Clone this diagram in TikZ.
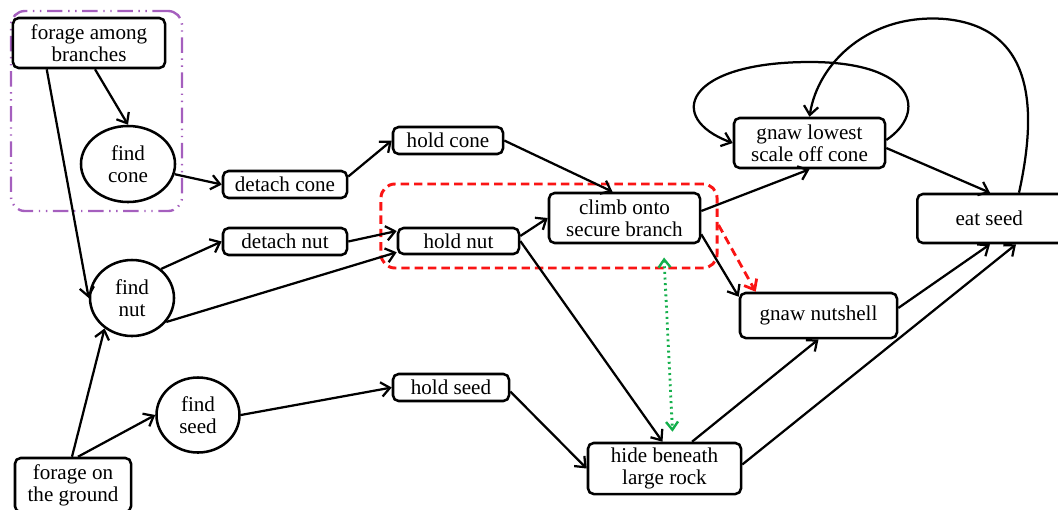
\documentclass[tikz,border=0pt]{standalone}
\usepackage{fontspec}
\setmainfont{Liberation Serif}
\newfontfamily\nodeserif{Liberation Serif}
\usetikzlibrary{arrows.meta,shapes.geometric,calc}
\definecolor{grpviolet}{RGB}{165,95,190}
\definecolor{grpred}{RGB}{250,20,20}
\definecolor{grpgreen}{RGB}{20,175,75}
\begin{document}
\begin{tikzpicture}[x=0.025cm,y=-0.025cm,
  every node/.style={font=\nodeserif\fontsize{15}{15.5}\selectfont, align=center, inner sep=0pt},
  box/.style={draw, line width=1.8pt, rounded corners=4pt},
  oval/.style={draw, line width=1.8pt, ellipse},
  flow/.style={line width=1.6pt, -{Straight Barb[length=0.22cm,width=0.36cm,line width=1.6pt]}},
  redflow/.style={line width=2pt, grpred, dash pattern=on 6pt off 3.5pt, -{Straight Barb[length=0.22cm,width=0.36cm,line width=2pt,line cap=butt]}},
  greenflow/.style={line width=2pt, grpgreen, dash pattern=on 1.4pt off 2.6pt, {Straight Barb[length=0.2cm,width=0.3cm,line width=1.7pt]}-{Straight Barb[length=0.2cm,width=0.3cm,line width=1.7pt]}},
  grpbox/.style={line width=1.7pt, rounded corners=10pt, inner sep=0pt}
]
\useasboundingbox (0,0) rectangle (1058,509);

% group frames
\node[grpbox, draw=grpviolet, dash pattern=on 11pt off 4pt on 1pt off 4pt on 1pt off 4pt,
      minimum width=4.275cm, minimum height=5cm] (purplebox) at (96.5,111) {};
\node[grpbox, draw=grpred, line width=2.1pt, dash pattern=on 6pt off 3.5pt,
      minimum width=8.4cm, minimum height=2.1cm] (redbox) at (549,226) {};

% nodes
\node[box, minimum width=3.8cm, minimum height=1.25cm] (fab) at (89,43) {forage among\\branches};
\node[oval, minimum width=2.35cm, minimum height=1.9cm] (fcone) at (128,164) {find\\cone};
\node[box, minimum width=3.1cm, minimum height=0.675cm] (dcone) at (285,184.5) {detach cone};
\node[box, minimum width=2.75cm, minimum height=0.675cm] (hcone) at (448,140.5) {hold cone};
\node[box, minimum width=3.1cm, minimum height=0.675cm] (dnut) at (285,241.5) {detach nut};
\node[oval, minimum width=2.1cm, minimum height=1.9cm] (fnut) at (132,298) {find\\nut};
\node[box, minimum width=3.025cm, minimum height=0.65cm] (hnut) at (458.5,241) {hold nut};
\node[box, minimum width=3.775cm, minimum height=1.25cm] (climb) at (624.5,218) {climb onto\\secure branch};
\node[box, minimum width=3.775cm, minimum height=1.25cm] (glow) at (809.5,143) {gnaw lowest\\scale off cone};
\node[box, minimum width=4.0cm, minimum height=1.225cm, anchor=west] (eat) at (916,218.5) {\hspace*{-0.4cm}eat seed};
\node[box, minimum width=3.925cm, minimum height=1.125cm] (gnut) at (818.5,315.5) {gnaw nutshell};
\node[box, minimum width=3.825cm, minimum height=1.275cm] (hide) at (664.5,468.5) {hide beneath\\large rock};
\node[box, minimum width=2.9cm, minimum height=0.675cm] (hseed) at (451,387.5) {hold seed};
\node[oval, minimum width=2.075cm, minimum height=1.875cm] (fseed) at (198,415) {find\\seed};
\node[box, minimum width=2.9cm, minimum height=1.35cm] (fground) at (73,485) {forage on\\the ground};

% connectors
\draw[flow] ([xshift=0.15cm]fab.south) -- (fcone.north);
\draw[flow] ([xshift=0.875cm]fab.south west) -- (fnut.west);
\draw[flow] (fcone) -- (dcone.west);
\draw[flow] ([yshift=0.2cm]dcone.east) -- (hcone.west);
\draw[flow] (hcone.east) -- ([xshift=-0.3cm]climb.north);
\draw[flow] (fnut.45) -- (dnut.west);
\draw[flow] (fnut.-35) -- ([yshift=0.075cm]hnut.south west);
\draw[flow] (dnut.east) -- ([yshift=0.25cm]hnut.west);
\draw[flow] ([yshift=0.125cm]hnut.east) -- (climb.west);
\draw[flow] (hnut.east) -- ([xshift=-0.05cm]hide.north);
\draw[flow] ([yshift=0.175cm]climb.east) -- (glow.south);
\draw[flow] ([yshift=0.25cm]climb.south east) -- ([yshift=-0.125cm]gnut.north west);
\draw[flow] ([yshift=-0.125cm]glow.east) -- (eat.north -| 990,0);
\draw[flow] ([yshift=0.075cm]glow.east) .. controls (928,112) and (915,62) .. (810,62)
            .. controls (685,62) and (665,118) .. (glow.west);
\draw[flow] (eat.north -| 1019,0) .. controls (1035,120) and (1040,28) .. (945,19)
            .. controls (870,13) and (818,62) .. (glow.north);
\draw[flow] ([yshift=0.1875cm]gnut.east) -- (eat.south -| 990,0);
\draw[flow] ([xshift=0.6875cm]hide.north) -- (gnut.south);
\draw[flow] ([yshift=0.1cm]hide.east) -- (eat.south -| 1016,0);
\draw[flow] ([xshift=-0.025cm]fground.north) -- (fnut.228);
\draw[flow] ([xshift=0.125cm]fground.north) -- (fseed.west);
\draw[flow] (fseed.east) -- (hseed.west);
\draw[flow] ([yshift=-0.1cm]hseed.east) -- (hide.west);

% highlighted relations
\draw[redflow] ([yshift=0.025cm]redbox.east) -- ([xshift=0.425cm]gnut.north west);
\coordinate (gtop) at ([xshift=2.875cm,yshift=0.3cm]redbox.south);
\coordinate (gbot) at ([xshift=0.2cm,yshift=0.25cm]hide.north);
\draw[greenflow] (gtop) -- (gbot);
\end{tikzpicture}
\end{document}
